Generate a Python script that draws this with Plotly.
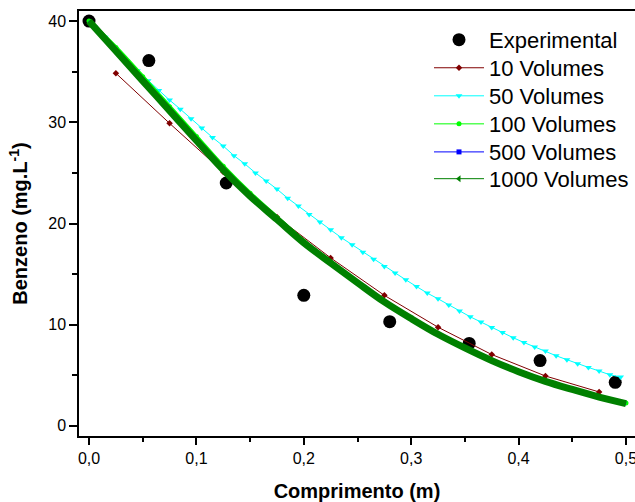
import plotly.graph_objects as go

# ---- data ----
exp_x = [0.0, 0.0557, 0.1278, 0.200, 0.280, 0.354, 0.420, 0.490]
exp_y = [40.0, 36.1, 24.0, 12.9, 10.3, 8.15, 6.45, 4.3]

v10_x = [0.025, 0.075, 0.125, 0.175, 0.225, 0.275, 0.325, 0.375, 0.425, 0.475]
v10_y = [34.85, 29.9, 25.1, 20.65, 16.6, 12.9, 9.75, 7.05, 4.93, 3.35]

v50_x = [0.005, 0.015, 0.025, 0.035, 0.045, 0.055, 0.065, 0.075, 0.085, 0.095,
         0.105, 0.115, 0.125, 0.135, 0.145, 0.155, 0.165, 0.175, 0.185, 0.195,
         0.205, 0.215, 0.225, 0.235, 0.245, 0.255, 0.265, 0.275, 0.285, 0.295,
         0.305, 0.315, 0.325, 0.335, 0.345, 0.355, 0.365, 0.375, 0.385, 0.395,
         0.405, 0.415, 0.425, 0.435, 0.445, 0.455, 0.465, 0.475, 0.485, 0.495]
v50_y = [39.45, 38.4, 37.25, 36.1, 35.1, 34.1, 33.15, 32.2, 31.3, 30.36,
         29.44, 28.5, 27.66, 26.7, 25.9, 25.0, 24.2, 23.4, 22.5, 21.74,
         20.9, 20.16, 19.37, 18.6, 17.9, 17.16, 16.47, 15.75, 15.1, 14.43,
         13.77, 13.12, 12.56, 11.95, 11.35, 10.78, 10.26, 9.73, 9.23, 8.71,
         8.24, 7.79, 7.4, 6.93, 6.54, 6.14, 5.78, 5.42, 5.05, 4.83]

fine_x = [0.0, 0.025, 0.05, 0.075, 0.1, 0.125, 0.15, 0.175, 0.2, 0.225, 0.25,
          0.275, 0.3, 0.325, 0.35, 0.375, 0.4, 0.425, 0.45, 0.475, 0.5]
v100_y = [40.0, 37.4, 34.5, 31.55, 28.6, 25.65, 23.0, 20.6, 18.25, 16.2, 14.2,
          12.3, 10.65, 9.1, 7.75, 6.5, 5.4, 4.45, 3.65, 2.9, 2.25]
v500_y = [40.0, 37.05, 34.1, 31.15, 28.2, 25.3, 22.7, 20.4, 18.1, 16.1, 14.15,
          12.25, 10.6, 9.05, 7.7, 6.45, 5.35, 4.4, 3.6, 2.85, 2.2]
v1000_y = [40.0, 37.05, 34.1, 31.15, 28.2, 25.3, 22.7, 20.4, 18.1, 16.1, 14.15,
           12.25, 10.6, 9.05, 7.7, 6.45, 5.35, 4.4, 3.6, 2.85, 2.2]

x_ticks = [0.0, 0.1, 0.2, 0.3, 0.4, 0.5]
y_ticks = [0, 10, 20, 30, 40]

FONT = "Liberation Sans, Arial, sans-serif"

fig = go.Figure()

fig.add_trace(go.Scatter(
    x=exp_x, y=exp_y, mode="markers", name="Experimental", legend="legend",
    marker=dict(symbol="circle", size=13, color="black")))

fig.add_trace(go.Scatter(
    x=v10_x, y=v10_y, mode="lines+markers", name="10 Volumes", legend="legend2",
    line=dict(color="#800000", width=1),
    marker=dict(symbol="diamond", size=5, color="#800000")))

fig.add_trace(go.Scatter(
    x=v50_x, y=v50_y, mode="lines+markers", name="50 Volumes", legend="legend3",
    line=dict(color="#00FFFF", width=1),
    marker=dict(symbol="triangle-down", size=6, color="#00FFFF")))

fig.add_trace(go.Scatter(
    x=fine_x, y=v100_y, mode="lines+markers", name="100 Volumes", showlegend=False,
    line=dict(color="#00FF00", width=4, shape="spline"),
    marker=dict(symbol="circle", size=5, color="#00FF00")))
fig.add_trace(go.Scatter(
    x=[None], y=[None], mode="lines+markers", name="100 Volumes", legend="legend4",
    line=dict(color="#00FF00", width=1),
    marker=dict(symbol="circle", size=5, color="#00FF00")))

fig.add_trace(go.Scatter(
    x=fine_x, y=v500_y, mode="lines", name="500 Volumes", showlegend=False,
    line=dict(color="#0000FF", width=4, shape="spline")))
fig.add_trace(go.Scatter(
    x=[None], y=[None], mode="lines+markers", name="500 Volumes", legend="legend5",
    line=dict(color="#0000FF", width=1),
    marker=dict(symbol="square", size=5, color="#0000FF")))

fig.add_trace(go.Scatter(
    x=fine_x, y=v1000_y, mode="lines", name="1000 Volumes", showlegend=False,
    line=dict(color="#008000", width=7, shape="spline")))
fig.add_trace(go.Scatter(
    x=[None], y=[None], mode="lines+markers", name="1000 Volumes", legend="legend6",
    line=dict(color="#008000", width=1),
    marker=dict(symbol="triangle-left", size=6, color="#008000")))

W, H = 635, 502
legend_rows = [0.932, 0.866, 0.80, 0.734, 0.668, 0.605]


def leg(yv):
    return dict(
        x=0.6295, y=yv, xanchor="left", yanchor="middle",
        bgcolor="rgba(0,0,0,0)", borderwidth=0,
        font=dict(size=22, family=FONT, color="black"),
        itemwidth=50,
    )


fig.update_layout(
    width=W, height=H,
    margin=dict(l=79, r=0, t=11, b=66, autoexpand=False),
    paper_bgcolor="white", plot_bgcolor="white",
    separators=",.",
    font=dict(family=FONT, color="black"),
    showlegend=True,
    legend=leg(legend_rows[0]),
    legend2=leg(legend_rows[1]),
    legend3=leg(legend_rows[2]),
    legend4=leg(legend_rows[3]),
    legend5=leg(legend_rows[4]),
    legend6=leg(legend_rows[5]),
    xaxis=dict(
        automargin=False,
        range=[-0.00933, 0.5084], tickvals=x_ticks, tickformat=".1f",
        ticklabeloverflow="allow",
        showgrid=False, zeroline=False,
        showline=True, linecolor="black", linewidth=1.5, mirror=True,
        ticks="outside", ticklen=7, tickwidth=1.5, tickcolor="black",
        minor=dict(dtick=0.05, ticks="outside", ticklen=4, tickwidth=1.5, tickcolor="black"),
        tickfont=dict(size=16, family=FONT, color="black"),
        title=dict(text="<b>Comprimento (m)</b>", font=dict(size=20, family=FONT, color="black"),
                   standoff=18),
    ),
    yaxis=dict(
        automargin=False,
        range=[-1, 41], tickvals=y_ticks,
        showgrid=False, zeroline=False,
        showline=True, linecolor="black", linewidth=1.5, mirror=False,
        ticks="outside", ticklen=8, tickwidth=1.5, tickcolor="black",
        minor=dict(dtick=5, ticks="outside", ticklen=5, tickwidth=1.5, tickcolor="black"),
        tickfont=dict(size=16, family=FONT, color="black"),
        title=dict(text="<b>Benzeno (mg.L<sup>-1</sup>)</b>", font=dict(size=20, family=FONT, color="black")),
    ),
)

# remove the browser's default 8px body margin so the figure fills the window
fig.write_html("out.html", config={"displayModeBar": False},
               post_script="document.body.style.margin='0px';")
